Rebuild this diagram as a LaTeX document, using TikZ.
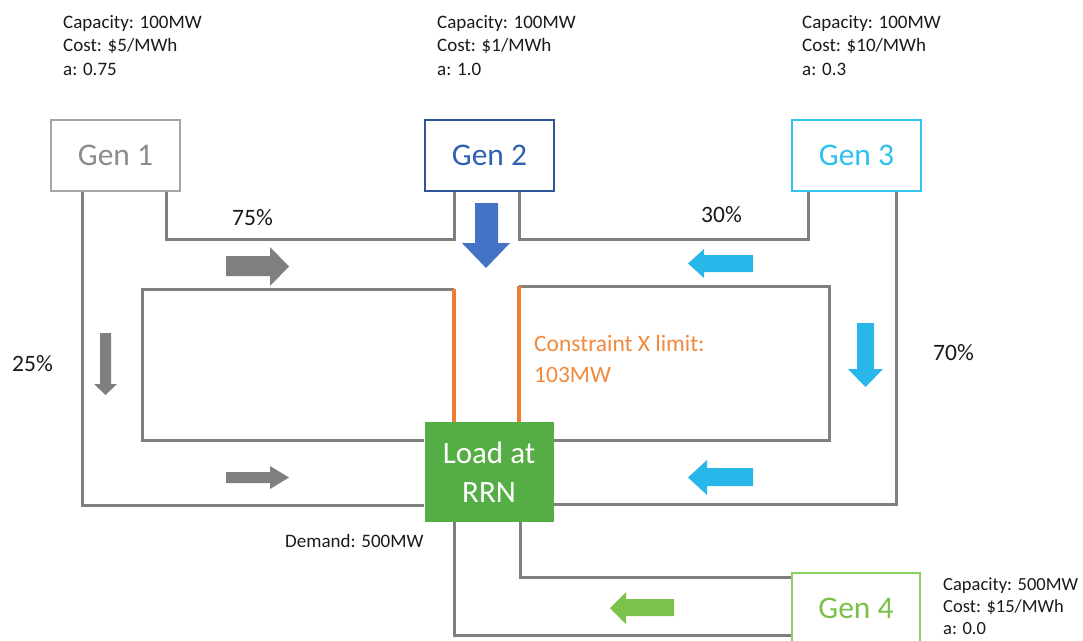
\documentclass[tikz,border=0pt]{standalone}
\usepackage{fontspec}
\setmainfont{Carlito}
\usetikzlibrary{calc}
\definecolor{wiregray}{HTML}{7F7F7F}
\definecolor{gonebd}{HTML}{A5A5A5}
\definecolor{gonetx}{HTML}{8C8C8C}
\definecolor{gtwobd}{HTML}{2F5597}
\definecolor{gtwotx}{HTML}{2E62B0}
\definecolor{gthreebd}{HTML}{33C3F0}
\definecolor{gthreetx}{HTML}{2EC1EE}
\definecolor{gfourbd}{HTML}{8BD05A}
\definecolor{gfourtx}{HTML}{7CC04A}
\definecolor{loadgreen}{HTML}{55AE45}
\definecolor{orangec}{HTML}{ED7D31}
\definecolor{orangetx}{HTML}{F08A3C}
\definecolor{bluearrow}{HTML}{4472C4}
\definecolor{cyanarrow}{HTML}{29B7E9}
\definecolor{greenarrow}{HTML}{7CC14A}
\definecolor{txt}{HTML}{1A1A1A}
\begin{document}
\begin{tikzpicture}[x=1pt,y=-1pt,
  wire/.style={draw=wiregray, line width=3pt},
  orangeline/.style={draw=orangec, line width=3.2pt},
  genbox/.style={draw, line width=1.3pt, minimum width=129pt, minimum height=71pt, inner sep=0pt, font=\fontsize{31.5}{37}\selectfont},
  loadbox/.style={fill=loadgreen, text=white, minimum width=129pt, minimum height=100pt, inner sep=0pt, align=center, font=\fontsize{31}{39}\selectfont},
  info/.style={anchor=base west, inner sep=0pt, text=txt, font=\fontsize{19}{23}\selectfont},
  infosm/.style={anchor=base west, inner sep=0pt, text=txt, font=\fontsize{18.5}{22}\selectfont},
  pct/.style={anchor=base west, inner sep=0pt, text=txt, font=\fontsize{23.5}{28}\selectfont},
  cons/.style={anchor=base west, inner sep=0pt, text=orangetx, font=\fontsize{23.5}{28}\selectfont}]
\useasboundingbox (0,0) rectangle (1083,640);
\fill[white] (0,0) rectangle (1083,640);

% nodes
\coordinate (oL) at (454,289);
\coordinate (oR) at (519,286);
\node[loadbox] (load) at (489,472) {Load at\\RRN};
\node[genbox, draw=gonebd, text=gonetx] (g1) at (115.5,155.5) {Gen 1};
\node[genbox, draw=gtwobd, text=gtwotx] (g2) at (489.5,155.5) {Gen 2};
\node[genbox, draw=gthreebd, text=gthreetx] (g3) at (856.5,155.5) {Gen 3};
\node[genbox, draw=gfourbd, text=gfourtx, minimum width=128pt] (g4) at (856,608.5) {Gen 4};

% connectors
\draw[wire] ([xshift=50.5pt]g1.south) -- ++(0,48) -| ([xshift=-35.5pt]g2.south);
\draw[wire] ([xshift=-48.5pt]g3.south) -- ++(0,48) -| ([xshift=29.5pt]g2.south);
\draw[wire] ([xshift=-33.5pt]g1.south) |- ([yshift=-33pt]load.west);
\draw[wire] ([xshift=39.5pt]g3.south) |- ([yshift=-32pt]load.east);
\draw[wire] (oL) -- ++(-312,0) |- ([yshift=32pt]load.west);
\draw[wire] (oR) -- ++(310,0) |- ([yshift=32pt]load.east);
\draw[orangeline] (oL) -- (oL |- load.north);
\draw[orangeline] (oR) -- (oR |- load.north);
\draw[wire] ([xshift=-35pt]load.south) |- ([yshift=-26.5pt]g4.west);
\draw[wire] ([xshift=31pt]load.south) |- ([yshift=31.5pt]g4.west);

% block arrows
\fill[wiregray] (226,256) -- (270,256) -- (270,247) -- (289,266.5) -- (270,286) -- (270,276) -- (226,276) -- cycle;
\fill[wiregray] (226,472) -- (270,472) -- (270,466) -- (289,477.5) -- (270,489) -- (270,483) -- (226,483) -- cycle;
\fill[wiregray] (100,333) -- (111,333) -- (111,384) -- (117,384) -- (105.5,395) -- (94,384) -- (100,384) -- cycle;
\fill[bluearrow] (475,203) -- (498,203) -- (498,243) -- (510,243) -- (486,268) -- (462,243) -- (475,243) -- cycle;
\fill[cyanarrow] (753,255) -- (704,255) -- (704,249) -- (688,263.5) -- (704,278) -- (704,272) -- (753,272) -- cycle;
\fill[cyanarrow] (753,468) -- (707,468) -- (707,460) -- (688,477.5) -- (707,495) -- (707,486) -- (753,486) -- cycle;
\fill[cyanarrow] (857,323) -- (874,323) -- (874,369) -- (883,369) -- (865.5,387) -- (848,369) -- (857,369) -- cycle;
\fill[greenarrow] (674,599) -- (626,599) -- (626,592) -- (610,608) -- (626,624) -- (626,616) -- (674,616) -- cycle;

% info texts
\node[info] (t1a) at (63,28) {Capacity: 100MW};
\node[info] (t1b) at (63,51.5) {Cost: \$5/MWh};
\node[info] (t1c) at (63,75) {a: 0.75};
\node[info] (t2a) at (437,28) {Capacity: 100MW};
\node[info] (t2b) at (437,51.5) {Cost: \$1/MWh};
\node[info] (t2c) at (437,75) {a: 1.0};
\node[info] (t3a) at (802,28) {Capacity: 100MW};
\node[info] (t3b) at (802,51.5) {Cost: \$10/MWh};
\node[info] (t3c) at (802,75) {a: 0.3};
\node[infosm] (t4a) at (943,590) {Capacity: 500MW};
\node[infosm] (t4b) at (943,612) {Cost: \$15/MWh};
\node[infosm] (t4c) at (943,634) {a: 0.0};
\node[info] (dem) at (285,547) {Demand: 500MW};

\node[pct] (p75) at (232,225) {75\%};
\node[pct] (p30) at (701,222) {30\%};
\node[pct] (p25) at (12,371.5) {25\%};
\node[pct] (p70) at (933,360) {70\%};
\node[cons] (c1) at (534,351.5) {Constraint X limit:};
\node[cons] (c2) at (534,382.5) {103MW};
\end{tikzpicture}
\end{document}
